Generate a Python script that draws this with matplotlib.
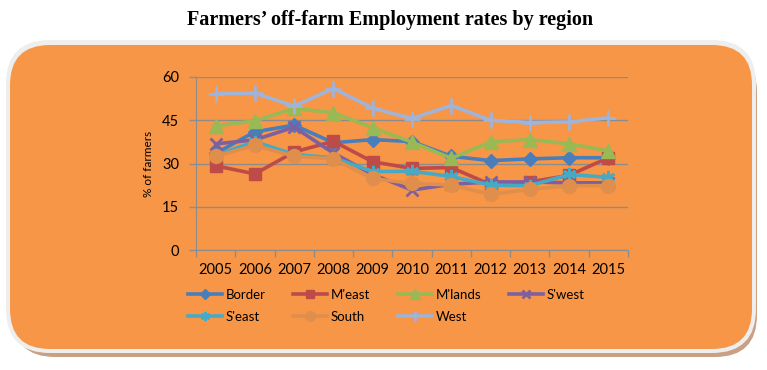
import numpy as np
import matplotlib
matplotlib.use("Agg")
import matplotlib.pyplot as plt
from matplotlib.patches import FancyBboxPatch

plt.rcParams['font.family'] = ['Lato', 'DejaVu Sans']

years = [2005, 2006, 2007, 2008, 2009, 2010, 2011, 2012, 2013, 2014, 2015]
border = [33.5, 41.0, 43.3, 37.2, 38.3, 37.6, 32.5, 31.0, 31.6, 32.0, 32.0]
m_east = [29.2, 26.4, 34.0, 37.7, 30.6, 28.3, 28.6, 22.7, 23.6, 25.9, 32.0]
m_lands = [43.0, 44.8, 49.1, 47.6, 42.4, 37.4, 31.8, 37.5, 38.3, 36.8, 34.4]
s_west = [36.8, 38.2, 42.6, 33.6, 26.2, 20.8, 22.8, 23.6, 23.6, 23.3, 23.3]
s_east = [32.8, 37.6, 33.1, 32.0, 27.2, 27.3, 25.5, 22.5, 22.3, 26.2, 25.2]
south = [32.5, 36.3, 32.5, 31.6, 24.8, 23.1, 22.5, 19.3, 21.0, 22.3, 22.3]
west = [54.2, 54.4, 49.9, 56.0, 49.2, 45.6, 50.1, 45.0, 44.2, 44.4, 45.9]

names = ["Border", "M'east", "M'lands", "S'west", "S'east", "South", "West"]
series = [border, m_east, m_lands, s_west, s_east, south, west]
colors = ['#4A7EBB', '#BE4B48', '#98B954', '#7D60A0', '#46AAC5', '#E08E4C', '#A0B3D8']
markers = ['D', 's', '^', 'x', (6, 2, 0), 'o', '+']
msizes = [7.5, 8.5, 9.5, 8.5, 9.5, 10, 11]

W, H = 767, 370
fig = plt.figure(figsize=(W / 100, H / 100), dpi=100)
fig.patch.set_facecolor('white')

# background box in pixel coords
bg = fig.add_axes([0, 0, 1, 1])
bg.set_xlim(0, W)
bg.set_ylim(H, 0)
bg.axis('off')
bg.add_patch(FancyBboxPatch((13, 50), 744, 307, boxstyle="round,pad=0,rounding_size=42",
                            fc='#C9A084', ec='none'))
bg.add_patch(FancyBboxPatch((6, 40), 750, 313, boxstyle="round,pad=0,rounding_size=44",
                            fc='#EEEEEE', ec='none'))
bg.add_patch(FancyBboxPatch((10, 45), 742, 304, boxstyle="round,pad=0,rounding_size=40",
                            fc='#F79647', ec='none'))

fig.text(390 / W, 1 - 20 / H, "Farmers\u2019 off-farm Employment rates by region",
         ha='center', va='center', fontsize=14.5, fontweight='bold',
         family='Liberation Serif')

ax = fig.add_axes([196 / W, (H - 250) / H, (628 - 196) / W, (250 - 77) / H])
ax.set_facecolor('none')
x = np.arange(len(years))
lines = []
for name, vals, c, m, ms in zip(names, series, colors, markers, msizes):
    mew = 2 if m in ('x', '+') or isinstance(m, tuple) else 1
    ln, = ax.plot(x, vals, color=c, lw=2.6, marker=m, ms=ms, mfc=c, mec=c, mew=mew,
                  label=name)
    lines.append(ln)

ax.set_xlim(-0.5, len(years) - 0.5)
ax.set_ylim(0, 60)
ax.set_yticks([0, 15, 30, 45, 60])
ax.set_xticks(x, [str(y) for y in years])
ax.set_xticks(np.arange(-0.5, len(years)), minor=True)
ax.tick_params(axis='x', which='major', length=0, pad=9, labelsize=10.5)
ax.tick_params(axis='x', which='minor', length=5, color='#8C8C8C', width=1)
ax.tick_params(axis='y', length=5, color='#8C8C8C', width=1, pad=7, labelsize=10.5)
ax.grid(axis='y', color='#8C8C8C', lw=1)
ax.set_axisbelow(True)
for s in ['top', 'right']:
    ax.spines[s].set_visible(False)
for s in ['left', 'bottom']:
    ax.spines[s].set_color('#8C8C8C')
ax.set_ylabel('% of farmers', fontsize=8.5, labelpad=6)

order = [0, 4, 1, 5, 2, 6, 3]
fig.legend([lines[i] for i in order], [names[i] for i in order], ncol=4,
           loc='upper left', bbox_to_anchor=(176 / W, 1 - 277 / H), frameon=False,
           fontsize=9.5, handlelength=2.6, handletextpad=0.25, columnspacing=2.1,
           labelspacing=0.75, markerscale=0.7)

fig.savefig('out.png', dpi=100)
